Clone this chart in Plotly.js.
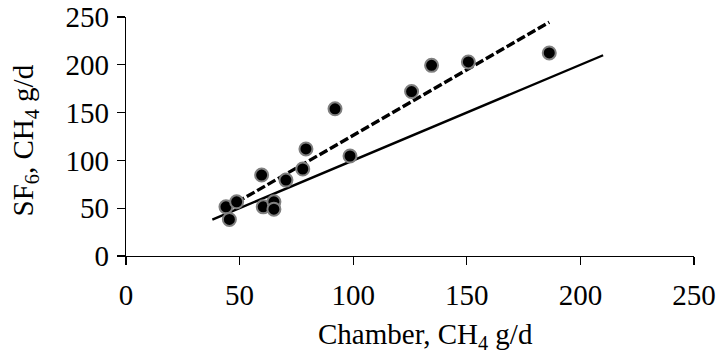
<!DOCTYPE html>
<html>
<head>
<meta charset="utf-8">
<script src="https://cdn.plot.ly/plotly-3.0.1.min.js"></script>
<style>html,body{margin:0;padding:0;background:#fff;}#chart{width:722px;height:364px;}</style>
</head>
<body>
<div id="chart"></div>
<script>
// Chamber CH4 (g/d) vs SF6 CH4 (g/d)
const chamber = [44, 45.5, 48.7, 59.7, 60.4, 65.1, 65.1, 70.4, 77.8, 79.2, 92, 98.6, 125.7, 134.5, 150.7, 186.3];
const sf6     = [51.4, 38.2, 56.7, 84.7, 51.4, 56.7, 49, 79.4, 91, 112, 154, 104.6, 172, 199.4, 203, 212.4];
// 1:1 line
const oneToOneX = [38, 210];
const oneToOneY = [38, 210];
// regression trend line
const trendX = [44, 186.3];
const trendY = [49.6, 244.5];
// ticks
const tickVals = [0, 50, 100, 150, 200, 250];
// titles
const xTitle = 'Chamber, CH<sub>4</sub> g/d';
const yTitle = 'SF<sub>6</sub>, CH<sub>4</sub> g/d';

const font = {family: '"Liberation Serif", "Times New Roman", serif', size: 29, color: '#000'};

const traces = [
  {x: oneToOneX, y: oneToOneY, mode: 'lines', line: {color: '#000', width: 2.4}, hoverinfo: 'skip'},
  {x: trendX, y: trendY, mode: 'lines', line: {color: '#000', width: 3.4, dash: '9px,3px'}, hoverinfo: 'skip'},
  {x: chamber, y: sf6, mode: 'markers',
   marker: {color: '#000', size: 13, line: {color: '#808080', width: 2}}}
];

const axisBase = {
  range: [0, 250], tickvals: tickVals, ticktext: tickVals.map(String),
  showline: true, linecolor: '#000', linewidth: 1.3,
  ticks: 'outside', ticklen: 8, tickwidth: 1.3, tickcolor: '#000',
  showgrid: false, zeroline: false, tickfont: font, fixedrange: true
};

const layout = {
  width: 722, height: 364,
  margin: {l: 126, r: 28, t: 17, b: 108, pad: 0},
  paper_bgcolor: '#fff', plot_bgcolor: '#fff',
  showlegend: false, font: font,
  xaxis: Object.assign({}, axisBase, {ticklabelstandoff: 5}),
  yaxis: Object.assign({}, axisBase, {ticklabelstandoff: 2}),
  annotations: [
    {text: xTitle, xref: 'paper', yref: 'paper', x: 0.5, xshift: 15, y: 0, yshift: -80,
     xanchor: 'center', yanchor: 'middle', showarrow: false, font: font},
    {text: yTitle, xref: 'paper', yref: 'paper', x: 0, xshift: -102, y: 0.5, yshift: -4,
     xanchor: 'center', yanchor: 'middle', textangle: -90, showarrow: false, font: font}
  ]
};

Plotly.newPlot('chart', traces, layout, {staticPlot: true, displayModeBar: false});
</script>
</body>
</html>
